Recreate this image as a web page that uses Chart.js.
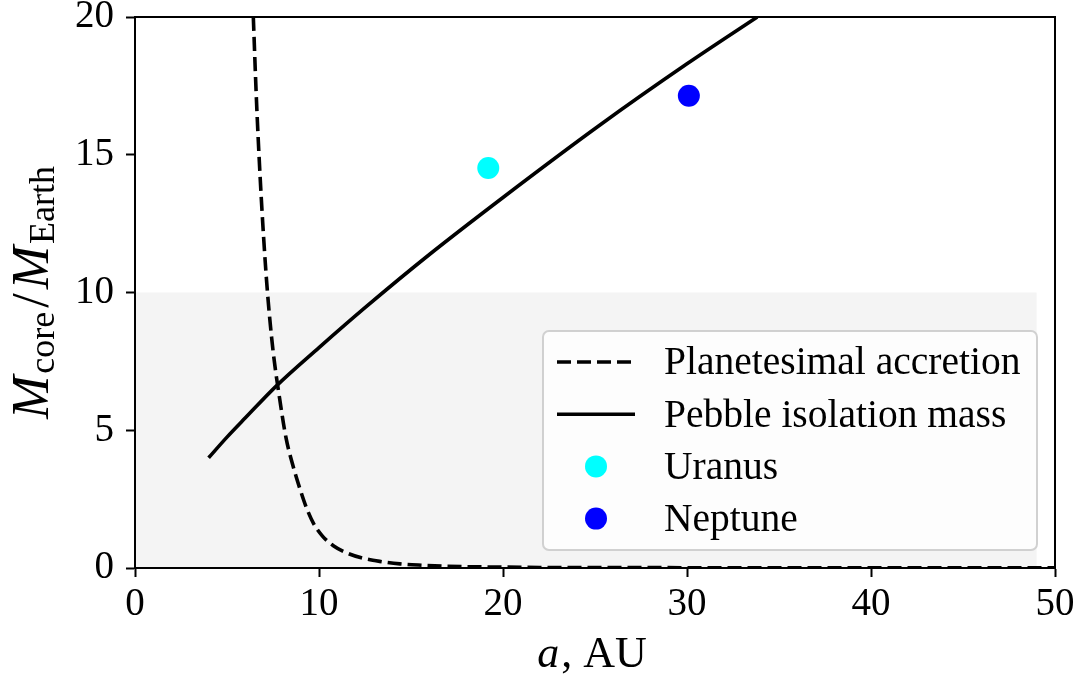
<!DOCTYPE html>
<html lang="en">
<head>
  <meta charset="UTF-8">
  <title>Core mass vs. semi-major axis</title>
  <style>
    * { margin: 0; padding: 0; box-sizing: border-box; }
    body { background: #ffffff; width: 1090px; height: 684px; overflow: hidden; }
    canvas { display: block; }
  </style>
</head>
<body>
  <canvas id="massChart" width="1090" height="684"></canvas>

  <script src="https://cdn.jsdelivr.net/npm/chart.js"></script>
  <script>
    // semi-major axis (AU) and core mass (Earth masses)
    const aPlanetesimal = [6.43, 6.6, 6.8, 7.0, 7.2, 7.5, 7.86, 8.2, 8.59, 9.0, 9.31, 9.7, 10.2, 10.8, 11.5, 12.3, 13.3, 14.4, 15.6, 17, 19, 22, 26, 32, 40, 50];
    const mPlanetesimal = [20, 17.0, 14.2, 11.9, 10.0, 7.9, 6.15, 4.75, 3.7, 2.8, 2.2, 1.62, 1.15, 0.8, 0.55, 0.37, 0.24, 0.15, 0.1, 0.06, 0.04, 0.02, 0.015, 0.01, 0.01, 0.01];

    const aPebble = [4, 5, 6, 7.7, 10, 12.5, 16, 20, 25.27, 30, 33.82];
    const mPebble = [4.0, 4.75, 5.45, 6.62, 8.0, 9.45, 11.38, 13.45, 16.08, 18.3, 20];

    const planetNames = ['Uranus', 'Neptune'];
    const planetA = [19.2, 30.1];
    const planetM = [14.52, 17.14];

    // light band under 10 Earth masses
    const shadeA = [0, 49];
    const shadeM = [0, 10];

    const xTicks = [0, 10, 20, 30, 40, 50];
    const yTicks = [0, 5, 10, 15, 20];

    const SERIF = "'Liberation Serif', 'DejaVu Serif', serif";
    Chart.defaults.font.family = SERIF;
    Chart.defaults.color = '#000';

    const toPoints = (xs, ys) => xs.map((x, i) => ({ x: x, y: ys[i] }));

    const shadePlugin = {
      id: 'shade',
      beforeDatasetsDraw(chart) {
        const { ctx, scales: { x, y } } = chart;
        const x0 = x.getPixelForValue(shadeA[0]), x1 = x.getPixelForValue(shadeA[1]);
        const y0 = y.getPixelForValue(shadeM[0]), y1 = y.getPixelForValue(shadeM[1]);
        ctx.save();
        ctx.fillStyle = '#f4f4f4';
        ctx.fillRect(x0, y1, x1 - x0, y0 - y1);
        ctx.restore();
      }
    };

    const framePlugin = {
      id: 'frame',
      afterDatasetsDraw(chart) {
        const { ctx, chartArea: a } = chart;
        ctx.save();
        ctx.strokeStyle = '#000';
        ctx.lineWidth = 2;
        ctx.strokeRect(a.left, a.top, a.right - a.left, a.bottom - a.top);
        ctx.restore();
      }
    };

    // matplotlib-like legend box in the lower right corner
    const legendPlugin = {
      id: 'boxLegend',
      afterDraw(chart) {
        const { ctx, chartArea: a } = chart;
        const w = 494, h = 219;
        const right = a.right - 18, bottom = a.bottom - 18;
        const left = right - w, top = bottom - h;
        ctx.save();
        ctx.beginPath();
        ctx.roundRect(left, top, w, h, 6);
        ctx.fillStyle = 'rgba(255,255,255,0.8)';
        ctx.fill();
        ctx.strokeStyle = 'rgba(204,204,204,0.9)';
        ctx.lineWidth = 2;
        ctx.stroke();

        ctx.font = '39.5px ' + SERIF;
        ctx.textBaseline = 'middle';
        chart.data.datasets.forEach((ds, i) => {
          const cy = top + 31 + i * 52.2;
          if (ds.showLine) {
            ctx.beginPath();
            ctx.setLineDash(ds.borderDash || []);
            ctx.lineWidth = ds.borderWidth;
            ctx.strokeStyle = ds.borderColor;
            ctx.moveTo(left + 14, cy);
            ctx.lineTo(left + 92, cy);
            ctx.stroke();
            ctx.setLineDash([]);
          } else {
            ctx.beginPath();
            ctx.arc(left + 53, cy, ds.pointRadius, 0, Math.PI * 2);
            ctx.fillStyle = ds.backgroundColor;
            ctx.fill();
          }
          ctx.fillStyle = '#000';
          ctx.fillText(ds.label, left + 121, cy + 2);
        });
        ctx.restore();
      }
    };

    // axis titles with italic symbols and subscripts
    const titlePlugin = {
      id: 'axisTitles',
      afterDraw(chart) {
        const { ctx, chartArea: a } = chart;
        ctx.save();
        ctx.fillStyle = '#000';
        ctx.textBaseline = 'alphabetic';

        // x: "a, AU"
        const big = '44px ' + SERIF, bigIt = 'italic 44px ' + SERIF;
        ctx.font = bigIt; const wa = ctx.measureText('a').width;
        ctx.font = big; const wr = ctx.measureText(', AU').width;
        const x = (a.left + a.right) / 2 - 4 - (wa + wr) / 2;
        ctx.font = bigIt; ctx.fillText('a', x, 667);
        ctx.font = big; ctx.fillText(', AU', x + wa + 2, 667);

        // y: M_core / M_Earth
        const parts = [
          { t: 'M', f: 'italic 52px ' + SERIF, dy: 0, gap: 2 },
          { t: 'core', f: '36px ' + SERIF, dy: 6, gap: 4 },
          { t: '/', f: '52px ' + SERIF, dy: 0, gap: 4 },
          { t: 'M', f: 'italic 52px ' + SERIF, dy: 0, gap: 2 },
          { t: 'Earth', f: '36px ' + SERIF, dy: 6, gap: 0 }
        ];
        let total = 0;
        parts.forEach(p => { ctx.font = p.f; p.w = ctx.measureText(p.t).width; total += p.w + p.gap; });
        ctx.translate(48, (a.top + a.bottom) / 2);
        ctx.rotate(-Math.PI / 2);
        let pos = -total / 2;
        parts.forEach(p => {
          ctx.font = p.f;
          ctx.fillText(p.t, pos, p.dy);
          pos += p.w + p.gap;
        });
        ctx.restore();
      }
    };

    const ctx = document.getElementById('massChart').getContext('2d');
    const massChart = new Chart(ctx, {
      type: 'scatter',
      data: {
        datasets: [
          {
            label: 'Planetesimal accretion',
            data: toPoints(aPlanetesimal, mPlanetesimal),
            showLine: true,
            borderColor: '#000',
            borderWidth: 3.6,
            borderDash: [14, 6],
            pointRadius: 0,
            cubicInterpolationMode: 'monotone'
          },
          {
            label: 'Pebble isolation mass',
            data: toPoints(aPebble, mPebble),
            showLine: true,
            borderColor: '#000',
            borderWidth: 3.6,
            pointRadius: 0,
            cubicInterpolationMode: 'monotone'
          },
          {
            label: planetNames[0],
            data: [{ x: planetA[0], y: planetM[0] }],
            showLine: false,
            pointRadius: 11,
            backgroundColor: '#00ffff',
            borderWidth: 0
          },
          {
            label: planetNames[1],
            data: [{ x: planetA[1], y: planetM[1] }],
            showLine: false,
            pointRadius: 11,
            backgroundColor: '#0000ff',
            borderWidth: 0
          }
        ]
      },
      options: {
        responsive: false,
        animation: false,
        layout: { padding: { left: 0, right: 35, top: 17, bottom: 0 } },
        plugins: {
          legend: { display: false },
          tooltip: { enabled: false }
        },
        scales: {
          x: {
            type: 'linear',
            min: 0,
            max: 50,
            afterBuildTicks: s => { s.ticks = xTicks.map(v => ({ value: v })); },
            afterFit: s => { s.height = 116; s.paddingLeft = 0; s.paddingRight = 0; },
            grid: { drawOnChartArea: false, drawTicks: true, tickLength: 9, tickWidth: 2, tickColor: '#000' },
            border: { display: true, color: '#000', width: 2 },
            ticks: { font: { size: 39 }, color: '#000', padding: 4, maxRotation: 0 }
          },
          y: {
            type: 'linear',
            min: 0,
            max: 20,
            afterBuildTicks: s => { s.ticks = yTicks.map(v => ({ value: v })); },
            afterFit: s => { s.width = 135; s.paddingTop = 0; s.paddingBottom = 0; },
            grid: { drawOnChartArea: false, drawTicks: true, tickLength: 9, tickWidth: 2, tickColor: '#000' },
            border: { display: true, color: '#000', width: 2 },
            ticks: { font: { size: 39 }, color: '#000', padding: 12 }
          }
        }
      },
      plugins: [shadePlugin, framePlugin, legendPlugin, titlePlugin]
    });
  </script>
</body>
</html>
